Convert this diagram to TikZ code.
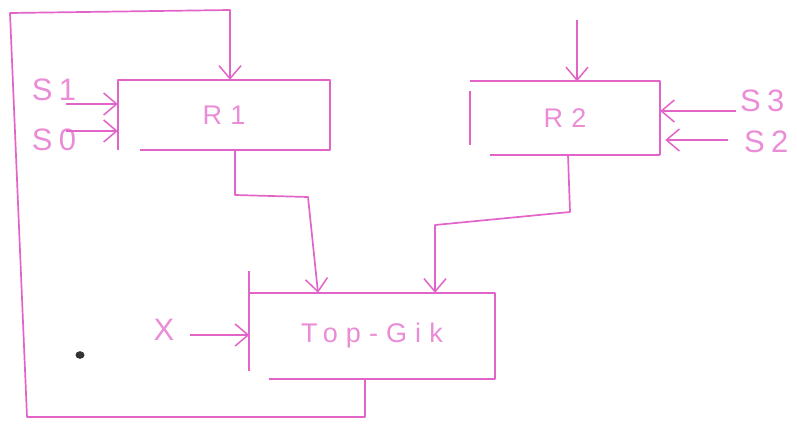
\documentclass[tikz,border=0pt]{standalone}
\usepackage{fontspec}
\setmainfont{Liberation Sans}
\usetikzlibrary{arrows.meta}
\definecolor{ink}{RGB}{226,100,200}
\definecolor{inktext}{RGB}{234,140,214}

\begin{document}
\begin{tikzpicture}[x=1pt,y=-1pt,
  wire/.style={draw=ink,line width=1.7pt,line join=round},
  arr/.style={wire,-{Straight Barb[length=13pt,width=22pt,line width=1.5pt]}},
  box/.style={inner sep=0pt,text=inktext},
  lbl/.style={inner sep=0pt,text=inktext,font=\fontsize{31}{31}\selectfont\addfontfeature{LetterSpace=20}},
  boxtext/.style={font=\fontsize{27}{27}\selectfont\addfontfeature{LetterSpace=30}}]
\useasboundingbox (0,0) rectangle (797,423);

% the three blocks
\node[box,boxtext,minimum width=212pt,minimum height=70pt] (r1) at (224,115) {R1};
\node[box,boxtext,minimum width=190pt,minimum height=73pt] (r2) at (565,118) {R2};
\node[box,boxtext,minimum width=245pt,minimum height=86pt] (top) at (372,336) {Top-Gik};

% block outlines, sketched with open corners
\draw[wire] ([xshift=22pt]r1.south west) -- (r1.south east) -- (r1.north east)
  -- (r1.north west) -- (r1.south west);
\draw[wire] (r2.north west) -- (r2.north east) -- (r2.south east);
\draw[wire] ([xshift=20pt]r2.south west) -- (r2.south east);
\draw[wire] ([yshift=-10pt]r2.north west) -- ([yshift=10pt]r2.south west);
\draw[wire] ([yshift=22pt]top.north west) -- ([yshift=8pt]top.south west);
\draw[wire] (top.north west) -- (top.north east) -- (top.south east)
  -- ([xshift=20pt]top.south west);

% input labels
\node[lbl] (s1) at (54,90) {S1};
\node[lbl] (s0) at (54,140) {S0};
\node[lbl,anchor=west] (s3) at (740,101) {S3};
\node[lbl,anchor=west] (s2) at (744,142) {S2};
\node[lbl] (x) at (164,330) {X};

% inputs into the blocks
\coordinate (s1a) at (66,104);
\coordinate (s0a) at (66,131);
\coordinate (s3a) at (736,111);
\coordinate (s2a) at (728,140);
\coordinate (xa)  at (190,335);
\coordinate (r2in) at (577,20);
\draw[arr] (s1a) -- (s1a -| r1.west);
\draw[arr] (s0a) -- (s0a -| r1.west);
\draw[arr] (s3a) -- (s3a -| r2.east);
\draw[arr] (s2a) -- ([xshift=5pt]s2a -| r2.east);
\draw[arr] (xa) -- (xa -| top.west);
\draw[arr] (r2in) -- (r2in |- r2.north);

% register outputs into the top block
\coordinate (r1o) at (235,150);
\coordinate (r2o) at (568,155);
\draw[arr] (r1o |- r1.south) -- (235,195) -- (308,197) -- (318,290 |- top.north);
\draw[arr] (r2o |- r2.south) -- (570,212) -- (435,225) -- (435,290 |- top.north);

% feedback loop from the top block back to R1
\coordinate (fb) at (365,378);
\draw[arr] (fb |- top.south) -- (365,417) -- (27,417) -- (10,13) -- (230,10)
  -- (230,80 |- r1.north);

% stray ink mark
\fill[black!80] (80,355) ellipse (4.5 and 3.8);
\end{tikzpicture}
\end{document}
